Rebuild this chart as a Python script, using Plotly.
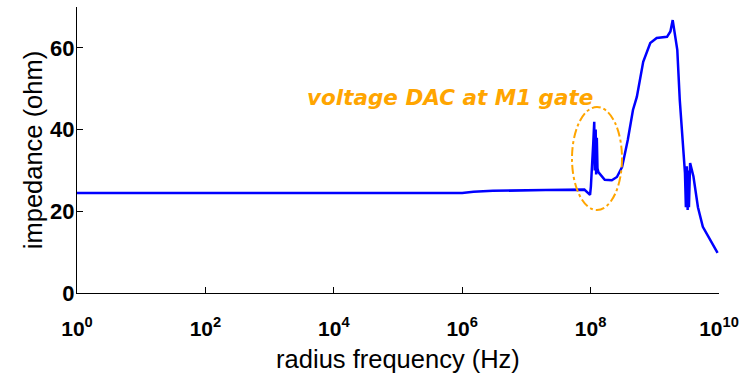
import plotly.graph_objects as go

# frequency (Hz) and impedance (ohm)
freq = [1e0, 1e3, 1e6, 1.5e6, 3e6, 2e7, 8e7, 9.8e7, 1.01e8, 1.1e8, 1.14e8, 1.16e8,
        1.2e8, 1.22e8, 1.25e8, 1.28e8, 1.32e8, 1.66e8, 2.14e8, 2.57e8, 3.09e8,
        3.8e8, 4.57e8, 5.25e8, 6.6e8, 8.5e8, 1.07e9, 1.55e9, 1.75e9, 1.9e9,
        2.24e9, 2.45e9, 2.75e9, 2.95e9, 3.05e9, 3.15e9, 3.25e9, 3.3e9, 3.4e9,
        3.55e9, 4.0e9, 4.7e9, 5.6e9, 7.2e9, 9.5e9]
impedance = [24.5, 24.5, 24.5, 24.8, 25.0, 25.2, 25.3, 24.0, 26.0, 36.7, 41.9, 30.0,
             40.0, 29.0, 38.0, 30.5, 29.6, 27.7, 27.6, 28.4, 30.8,
             37.5, 44.8, 48.0, 56.6, 61.2, 62.4, 62.7, 64.0, 66.8,
             59.5, 47.2, 35.0, 29.4, 21.0, 31.0, 20.3, 30.0, 21.0,
             31.8, 28.5, 21.0, 16.2, 13.0, 9.8]

x_tickvals = [1e0, 1e2, 1e4, 1e6, 1e8, 1e10]
x_ticktext = ["10<sup>0</sup>", "10<sup>2</sup>", "10<sup>4</sup>",
              "10<sup>6</sup>", "10<sup>8</sup>", "10<sup>10</sup>"]
y_tickvals = [0, 20, 40, 60]
y_ticktext = ["0", "20", "40", "60"]

annotation_text = "voltage DAC at M1 gate"
x_title = "radius frequency (Hz)"
y_title = "impedance (ohm)"

fig = go.Figure()
fig.add_trace(go.Scatter(x=freq, y=impedance, mode="lines",
                         line=dict(color="#0000ff", width=2.5),
                         showlegend=False))

x_tick_font = dict(size=21, family="Liberation Sans, Arial", color="black", weight="bold")
y_tick_font = dict(size=22, family="Liberation Sans, Arial", color="black", weight="bold")
fig.update_layout(
    template="none",
    width=739, height=383,
    margin=dict(l=77, r=20, t=7, b=90),
    paper_bgcolor="white", plot_bgcolor="white",
    font=dict(family="Liberation Sans, Arial, sans-serif", color="black"),
)
fig.update_xaxes(type="log", range=[0, 10], tickvals=x_tickvals, ticktext=x_ticktext,
                 ticks="inside", ticklen=6, tickwidth=1, tickcolor="black",
                 showline=True, linecolor="black", linewidth=1, mirror=False,
                 showgrid=False, zeroline=False, automargin=False,
                 tickfont=x_tick_font, ticklabelstandoff=17,
                 title=dict(text=x_title, font=dict(size=25.5), standoff=10))
fig.update_yaxes(range=[0, 70], tickvals=y_tickvals, ticktext=y_ticktext,
                 ticks="inside", ticklen=6, tickwidth=1, tickcolor="black",
                 showline=True, linecolor="black", linewidth=1, mirror=False,
                 showgrid=False, zeroline=False, automargin=False,
                 tickfont=y_tick_font, ticklabelstandoff=-3,
                 title=dict(text=y_title, font=dict(size=25.5), standoff=0))

fig.add_shape(type="circle", xref="paper", yref="paper",
              x0=(572 - 77) / 642, x1=(622 - 77) / 642,
              y0=(293 - 210) / 286, y1=(293 - 107) / 286,
              line=dict(color="#ffa500", width=2, dash="dashdot"))
fig.add_annotation(xref="paper", yref="paper",
                   x=(450 - 77) / 642, y=(293 - 83) / 286,
                   text="<b><i>" + annotation_text + "</i></b>", showarrow=False,
                   font=dict(family="DejaVu Sans", size=21.5, color="#ffa500"))

fig.write_html("out.html", config={"displayModeBar": False},
               post_script="document.body.style.margin='0';document.body.style.padding='0';")
